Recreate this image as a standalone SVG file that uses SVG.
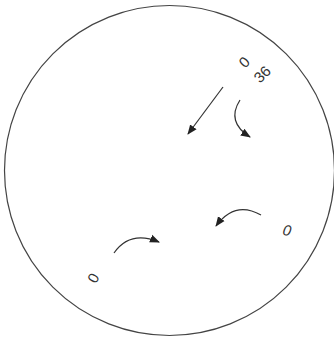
<svg xmlns="http://www.w3.org/2000/svg" width="334" height="343" viewBox="0 0 334 343">
<style>
.lbl{font-family:"Liberation Sans",Arial,sans-serif;font-size:15px;fill:#333;text-anchor:middle;dominant-baseline:central}
.arr{fill:none;stroke:#333;stroke-width:1.2;marker-end:url(#ah)}
</style>
<defs>
<marker id="ah" viewBox="0 0 10 10" refX="9" refY="5" markerWidth="10" markerHeight="10" markerUnits="userSpaceOnUse" orient="auto">
<path d="M0,1 L10,5 L0,9 z" fill="#222"/>
</marker>
</defs>
<rect width="334" height="343" fill="#fff"/>
<g id="dial">
<circle cx="169.5" cy="170.5" r="165" fill="none" stroke="#444" stroke-width="1.2"/>
</g>
<g id="labels">
<text class="lbl" transform="translate(244,62) rotate(-45)">0</text>
<text class="lbl" transform="translate(262,74) rotate(-45)">36</text>
<text class="lbl" font-style="italic" transform="translate(287,230) rotate(10)">0</text>
<text class="lbl" transform="translate(93,278) rotate(-60)">0</text>
</g>
<g id="connectors">
<path class="arr" d="M223,87 L188,134"/>
<path class="arr" d="M240,100 Q226,122 250,137"/>
<path class="arr" d="M261,215 Q235,200 216,226"/>
<path class="arr" d="M114,253 Q130,230 159,242"/>
</g>
</svg>
